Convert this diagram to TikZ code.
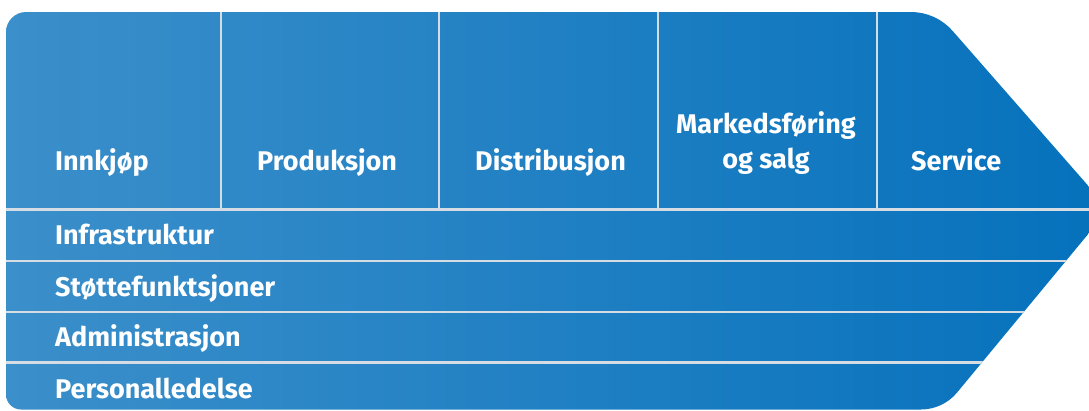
\documentclass[tikz,border=0pt]{standalone}
\usepackage{fontspec}
\setmainfont{Fira Sans}
\definecolor{bleft}{HTML}{3B8FCA}
\definecolor{bright}{HTML}{0571BC}
\definecolor{sepcol}{HTML}{D5DCE4}
\begin{document}
\begin{tikzpicture}[x=1pt,y=-1pt,
  lbl/.style={text=white,font=\bfseries\fontsize{27}{35}\selectfont,inner sep=0pt,anchor=base west},
  lblc/.style={lbl,anchor=base},
  sepline/.style={draw=sepcol,line width=2.5pt}]
\useasboundingbox (0,0) rectangle (1089,410);
\clip (0,0) rectangle (1089,410);
\def\chain{(6,32) .. controls (6,21) and (15,12) .. (26,12) -- (911,12) .. controls (926.8,12) and (942.1,18.9) .. (952.5,30.8) -- (1108.7,209.2) -- (957,392.6) .. controls (948.1,403.3) and (934.9,409.5) .. (921,409.5) -- (21,409.5) .. controls (12.7,409.5) and (6,402.8) .. (6,394.5) -- cycle}
\shade[left color=bleft,right color=bright] \chain;
\begin{scope}
\clip \chain;
\foreach \yy in {209.5,261,312,362.5} \draw[sepline] (0,\yy) -- (1110,\yy);
\foreach \xx in {221,439,658,877} \draw[sepline] (\xx,0) -- (\xx,209.5);
\end{scope}
\node[lbl] (innkjop) at (55,170) {Innkjøp};
\node[lbl] (prod) at (257,170) {Produksjon};
\node[lbl] (dist) at (475,170) {Distribusjon};
\node[lblc] (mark1) at (766,133) {Markedsføring};
\node[lblc] (mark2) at (766,168) {og salg};
\node[lbl] (serv) at (911,170) {Service};
\node[lbl] (infra) at (55,244) {Infrastruktur};
\node[lbl] (stotte) at (55,296) {Støttefunktsjoner};
\node[lbl] (admin) at (55,346.5) {Administrasjon};
\node[lbl] (pers) at (55,398) {Personalledelse};
\end{tikzpicture}
\end{document}
